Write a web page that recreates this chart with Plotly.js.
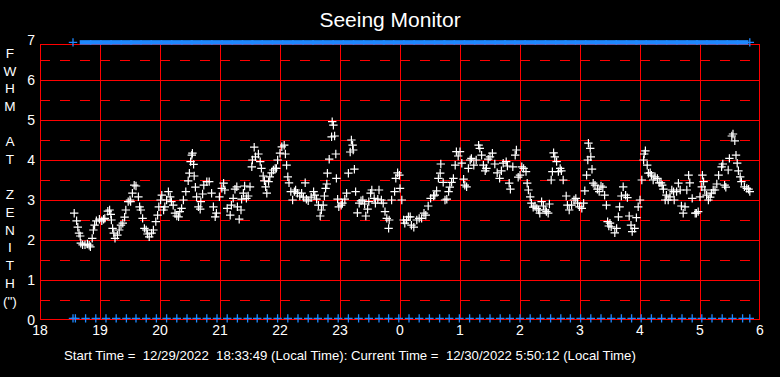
<!DOCTYPE html>
<html>
<head>
<meta charset="utf-8">
<script src="https://cdn.plot.ly/plotly-3.0.1.min.js"></script>
<style>
html,body{margin:0;padding:0;background:#000;}
#chart{width:780px;height:377px;}
</style>
</head>
<body>
<div id="chart"></div>
<script>
// Hour of night (values past 24 are after midnight)
const hours = [
 18.57,18.61,18.63,18.65,18.67,18.68,18.71,18.75,18.79,18.82,
 18.84,18.87,18.89,18.91,18.94,18.99,19.03,19.06,19.08,19.13,
 19.16,19.18,19.19,19.21,19.23,19.25,19.29,19.32,19.35,19.38,
 19.41,19.43,19.47,19.50,19.51,19.54,19.57,19.60,19.64,19.66,
 19.68,19.71,19.74,19.77,19.79,19.82,19.86,19.89,19.93,19.96,
 19.98,20.01,20.03,20.06,20.08,20.11,20.14,20.17,20.19,20.22,
 20.25,20.28,20.31,20.33,20.36,20.39,20.43,20.47,20.49,20.51,
 20.53,20.54,20.56,20.57,20.59,20.61,20.64,20.67,20.68,20.71,
 20.73,20.78,20.82,20.86,20.89,20.92,20.94,20.99,21.03,21.06,
 21.08,21.12,21.17,21.19,21.22,
 21.25,21.28,21.29,21.32,21.35,21.36,21.39,21.41,21.44,21.47,
 21.50,21.53,21.54,21.57,21.59,21.64,21.67,21.69,21.72,21.74,
 21.76,21.78,21.81,21.83,21.86,21.89,21.92,21.94,21.96,22.00,
 22.03,22.07,22.09,22.11,22.13,22.15,22.18,22.21,22.24,22.26,
 22.29,22.33,22.36,22.39,22.42,22.44,22.47,22.52,22.56,22.58,
 22.61,22.64,22.67,22.69,22.72,22.74,22.76,22.78,22.79,22.82,
 22.86,22.87,22.89,22.91,22.93,22.94,22.96,22.98,23.02,23.04,
 23.08,23.11,23.14,23.17,23.19,23.21,23.22,23.24,23.26,23.29,
 23.32,23.35,23.38,23.41,23.43,23.46,23.48,23.51,23.53,23.57,
 23.59,23.63,23.65,23.69,23.72,23.75,23.78,23.81,23.82,23.86,
 23.91,23.93,23.96,23.99,24.00,24.03,24.06,24.08,24.11,24.14,
 24.17,24.19,24.23,24.28,24.32,24.36,24.40,24.43,24.47,24.51,
 24.56,24.58,24.61,24.64,24.67,24.68,24.72,24.75,24.78,24.81,
 24.83,24.86,24.89,24.92,24.94,24.97,25.00,25.03,25.06,25.08,
 25.11,25.14,25.17,25.19,25.23,25.27,25.31,25.33,25.36,25.39,
 25.42,25.44,25.47,25.50,25.54,25.58,25.62,25.66,25.69,25.72,
 25.77,25.79,25.82,25.84,25.88,25.92,25.94,25.97,26.00,26.03,
 26.06,26.10,26.12,26.14,26.17,26.19,26.22,26.25,26.28,26.31,
 26.33,26.36,26.39,26.42,26.44,26.47,26.49,26.52,26.54,26.56,
 26.58,26.61,26.64,26.67,26.69,26.72,26.77,26.79,26.82,26.86,
 26.90,26.93,26.96,26.99,27.03,27.06,27.08,
 27.11,27.13,27.14,27.17,27.18,27.20,27.22,27.25,27.29,27.32,
 27.35,27.38,27.41,27.44,27.46,27.48,27.50,27.52,27.58,27.61,
 27.64,27.66,27.69,27.72,27.76,27.79,27.82,27.85,27.87,27.91,
 27.94,27.97,28.00,28.03,28.06,28.07,28.09,28.12,28.14,28.17,
 28.19,28.22,28.25,28.29,28.32,28.35,28.37,28.39,28.42,28.44,
 28.47,28.50,28.53,28.56,28.57,28.61,28.64,28.67,28.69,28.72,
 28.75,28.78,28.81,28.83,28.87,28.92,28.94,28.97,29.00,29.03,
 29.04,29.06,29.08,29.11,29.14,29.17,29.19,29.22,29.25,29.28,
 29.31,29.36,29.38,29.41,29.43,29.47,29.49,29.53,29.55,29.58,
 29.60,29.62,29.64,29.67,29.69,29.74,29.78,29.81,29.83
];
// FWHM at zenith (arcsec)
const fwhm = [
 2.67,2.48,2.32,2.17,2.10,1.92,1.88,1.88,1.90,1.87,
 1.83,2.04,2.25,2.37,2.48,2.52,2.48,2.52,2.54,2.72,
 2.75,2.64,2.50,2.29,2.17,2.04,2.12,2.25,2.37,2.42,
 2.57,2.75,2.96,3.00,2.96,3.17,3.37,3.35,3.08,2.83,
 2.75,2.54,2.29,2.25,2.15,2.08,2.17,2.25,2.46,2.62,
 2.83,3.00,3.12,2.75,2.83,3.00,3.21,3.08,2.96,2.87,
 2.67,2.60,2.58,2.71,2.79,3.00,3.21,3.48,3.67,3.96,
 4.12,4.17,3.89,3.60,3.32,3.08,2.83,2.77,2.96,3.15,
 3.37,3.46,3.46,3.17,2.83,2.58,2.67,3.08,3.29,3.42,
 3.25,2.79,2.62,2.87,3.04,
 3.27,3.33,2.83,2.52,2.75,3.02,3.17,3.35,3.04,3.10,
 3.33,3.83,4.00,4.32,4.08,4.15,3.96,3.79,3.60,3.48,
 3.33,3.17,3.46,3.58,3.68,3.75,3.79,3.79,4.00,4.17,
 4.33,4.37,4.15,3.87,3.58,3.43,3.21,3.00,3.21,3.25,
 3.17,3.10,3.17,3.07,3.43,3.02,2.98,3.07,3.21,3.12,
 3.02,2.87,2.60,2.75,2.87,3.10,3.29,3.40,3.67,4.02,
 4.58,4.96,4.87,4.60,4.15,3.54,3.02,2.83,2.87,2.92,
 3.02,3.17,3.67,4.20,4.50,4.37,4.25,3.77,3.21,2.68,
 2.92,2.98,3.00,2.90,2.60,2.77,2.96,3.17,3.25,3.04,
 2.92,3.02,3.25,3.00,2.92,2.71,2.54,2.29,2.50,3.00,
 3.21,3.54,3.68,3.62,3.29,3.00,2.50,2.42,2.50,2.58,
 2.58,2.37,2.32,2.50,2.54,2.54,2.67,2.62,2.85,3.04,
 3.10,3.12,3.23,3.54,3.67,3.90,3.44,3.00,3.02,3.21,
 3.32,3.44,3.54,3.87,4.21,4.10,4.21,3.92,3.52,3.37,
 3.33,3.79,4.00,4.04,3.87,4.00,4.37,4.29,4.12,3.87,
 3.73,3.79,4.02,4.08,4.17,3.90,3.68,3.54,3.73,3.92,
 3.96,3.85,3.42,3.27,3.83,4.12,4.25,3.57,3.62,3.83,
 3.79,3.71,3.42,3.25,3.08,2.92,2.82,2.85,2.79,2.75,
 2.67,2.96,2.85,2.75,2.71,2.67,2.90,3.50,3.71,4.18,
 4.08,3.96,3.71,3.79,3.73,3.50,3.10,2.87,2.75,2.87,
 3.00,3.04,2.92,2.83,2.79,2.92,3.23,
 3.62,4.00,4.42,4.29,4.08,3.77,3.42,3.37,3.27,3.21,
 3.35,3.32,3.12,2.87,2.46,2.35,2.42,2.33,2.18,2.29,
 2.58,2.83,3.10,3.33,3.12,3.06,2.60,2.37,2.21,2.29,
 2.56,2.83,3.00,3.50,4.00,4.15,4.23,3.87,3.67,3.68,
 3.62,3.50,3.58,3.54,3.43,3.43,3.37,3.27,3.00,3.12,
 3.00,3.08,3.25,3.21,3.00,3.21,3.42,3.25,2.85,2.67,
 2.83,3.25,3.62,3.43,3.04,2.67,2.67,2.71,3.08,3.33,
 3.62,3.46,3.25,3.12,3.00,3.07,3.17,3.25,3.25,3.40,
 3.62,3.83,3.90,3.37,3.32,3.75,4.04,4.60,4.65,4.48,
 4.12,3.92,3.73,3.58,3.46,3.33,3.29,3.27,3.21
];
// Blue status markers (times) along top and bottom rows
const statusTimes = [
 18.55,18.59,18.76,18.93,19.10,19.27,19.44,19.60,19.77,19.94,
 20.11,20.28,20.45,20.61,20.78,20.95,21.12,21.29,21.46,21.62,
 21.79,21.96,22.13,22.30,22.47,22.63,22.80,22.97,23.14,23.31,
 23.48,23.65,23.81,23.98,24.15,24.32,24.49,24.66,24.82,24.99,
 25.16,25.33,25.50,25.67,25.83,26.00,26.17,26.34,26.51,26.68,
 26.84,27.01,27.18,27.35,27.52,27.69,27.86,28.02,28.19,28.36,
 28.53,28.70,28.87,29.03,29.20,29.37,29.54,29.71,29.83
];
const topRowLevel = 6.94;
const bottomRowLevel = 0.04;
const topThickTimes = statusTimes.slice(2, -1);
const topThinTimes = [statusTimes[0], statusTimes[statusTimes.length - 1]];

const xTickVals = [18,19,20,21,22,23,24,25,26,27,28,29,30];
const xTickText = ['18','19','20','21','22','23','0','1','2','3','4','5','6'];
const yLabelVals = [0,1,2,3,4,5,6,7];
const yGridVals = [1,2,3,4,5,6];
const yHalfVals = [0.5,1.5,2.5,3.5,4.5,5.5,6.5];
const frameTop = 6.875;

const titleText = 'Seeing Monitor';
const yTitleText = 'F<br>W<br>H<br>M<br> <br>A<br>T<br> <br>Z<br>E<br>N<br>I<br>T<br>H<br>(")';
const footerText = 'Start Time =  12/29/2022  18:33:49 (Local Time): Current Time =  12/30/2022 5:50:12 (Local Time)';

const FONT = 'Liberation Sans, Arial, sans-serif';
const BLUE = '#1e88ff';
const RED = '#ff0000';

const traces = [
  {
    x: hours, y: fwhm, mode: 'markers', type: 'scatter', cliponaxis: false,
    marker: {symbol: 'cross-thin', size: 6, line: {color: '#ffffff', width: 1.2}}
  },
  {
    x: topThickTimes, y: topThickTimes.map(() => topRowLevel), mode: 'markers', type: 'scatter', cliponaxis: false,
    marker: {symbol: 'line-ew', size: 8.4, line: {color: BLUE, width: 4.5}},
    hoverinfo: 'skip'
  },
  {
    x: topThinTimes, y: topThinTimes.map(() => topRowLevel), mode: 'markers', type: 'scatter', cliponaxis: false,
    marker: {symbol: 'cross-thin', size: 6, line: {color: BLUE, width: 1.3}},
    hoverinfo: 'skip'
  },
  {
    x: statusTimes, y: statusTimes.map(() => bottomRowLevel), mode: 'markers', type: 'scatter', cliponaxis: false,
    marker: {symbol: 'cross-thin', size: 6, line: {color: BLUE, width: 1.3}},
    hoverinfo: 'skip'
  },
  {
    // invisible trace carrying the horizontal grid axis
    x: [18, 30], y: [0, 7], yaxis: 'y2', mode: 'markers', type: 'scatter',
    marker: {opacity: 0}, hoverinfo: 'skip'
  }
];

function vLine(v, off) {
  return {type: 'line', xref: 'x', yref: 'y', xsizemode: 'pixel', xanchor: v, x0: off, x1: off,
          y0: 0, y1: frameTop, line: {color: RED, width: 1}, layer: 'below'};
}
function hLine(v, off) {
  return {type: 'line', xref: 'x', yref: 'y', ysizemode: 'pixel', yanchor: v, y0: off, y1: off,
          x0: xTickVals[0], x1: xTickVals[xTickVals.length - 1], line: {color: RED, width: 1}, layer: 'below'};
}

const shapes = xTickVals.slice(1, -1).map(v => vLine(v, 0.5))
  .concat([vLine(xTickVals[0], 0.5), vLine(xTickVals[xTickVals.length - 1], -0.5),
           hLine(frameTop, 0.5), hLine(0, 0.5)]);

const layout = {
  width: 780, height: 377,
  paper_bgcolor: '#000000', plot_bgcolor: '#000000',
  showlegend: false,
  margin: {l: 40, r: 20, t: 40, b: 57},
  font: {family: FONT, color: '#ffffff', size: 14},
  title: {text: titleText, x: 0.5, xref: 'container', xanchor: 'center',
          y: 1 - 20/377, yref: 'container', yanchor: 'middle',
          font: {family: FONT, size: 21, color: '#ffffff'}},
  xaxis: {
    range: [18, 30], tickmode: 'array', tickvals: xTickVals, ticktext: xTickText,
    showgrid: false, zeroline: false, showline: false,
    ticks: '', tickfont: {family: FONT, size: 14, color: '#ffffff'}
  },
  yaxis: {
    range: [0, 7], tickmode: 'array', tickvals: yLabelVals,
    showgrid: false, zeroline: false, showline: false,
    ticks: '', ticklabelstandoff: 4,
    tickfont: {family: FONT, size: 14, color: '#ffffff'}
  },
  yaxis2: {
    range: [0, 7], overlaying: 'y', side: 'left', tickmode: 'array', tickvals: yGridVals,
    showticklabels: false, showgrid: true, gridcolor: RED, gridwidth: 1,
    zeroline: false, showline: false, ticks: '',
    minor: {tickmode: 'array', tickvals: yHalfVals, showgrid: true, gridcolor: RED,
            gridwidth: 1, griddash: '10px,10px', ticks: ''}
  },
  shapes: shapes,
  annotations: [
    {text: yTitleText, xref: 'paper', yref: 'paper', x: -30/720, y: (320-177)/280, xanchor: 'center', yanchor: 'middle',
     showarrow: false, align: 'center', font: {family: FONT, size: 13.6, color: '#ffffff'}},
    {text: footerText, xref: 'paper', yref: 'paper', x: 22/720, y: -35/280, xanchor: 'left', yanchor: 'middle',
     showarrow: false, font: {family: FONT, size: 13.2, color: '#ffffff'}}
  ]
};

Plotly.newPlot('chart', traces, layout, {displayModeBar: false, staticPlot: true});
</script>
</body>
</html>
